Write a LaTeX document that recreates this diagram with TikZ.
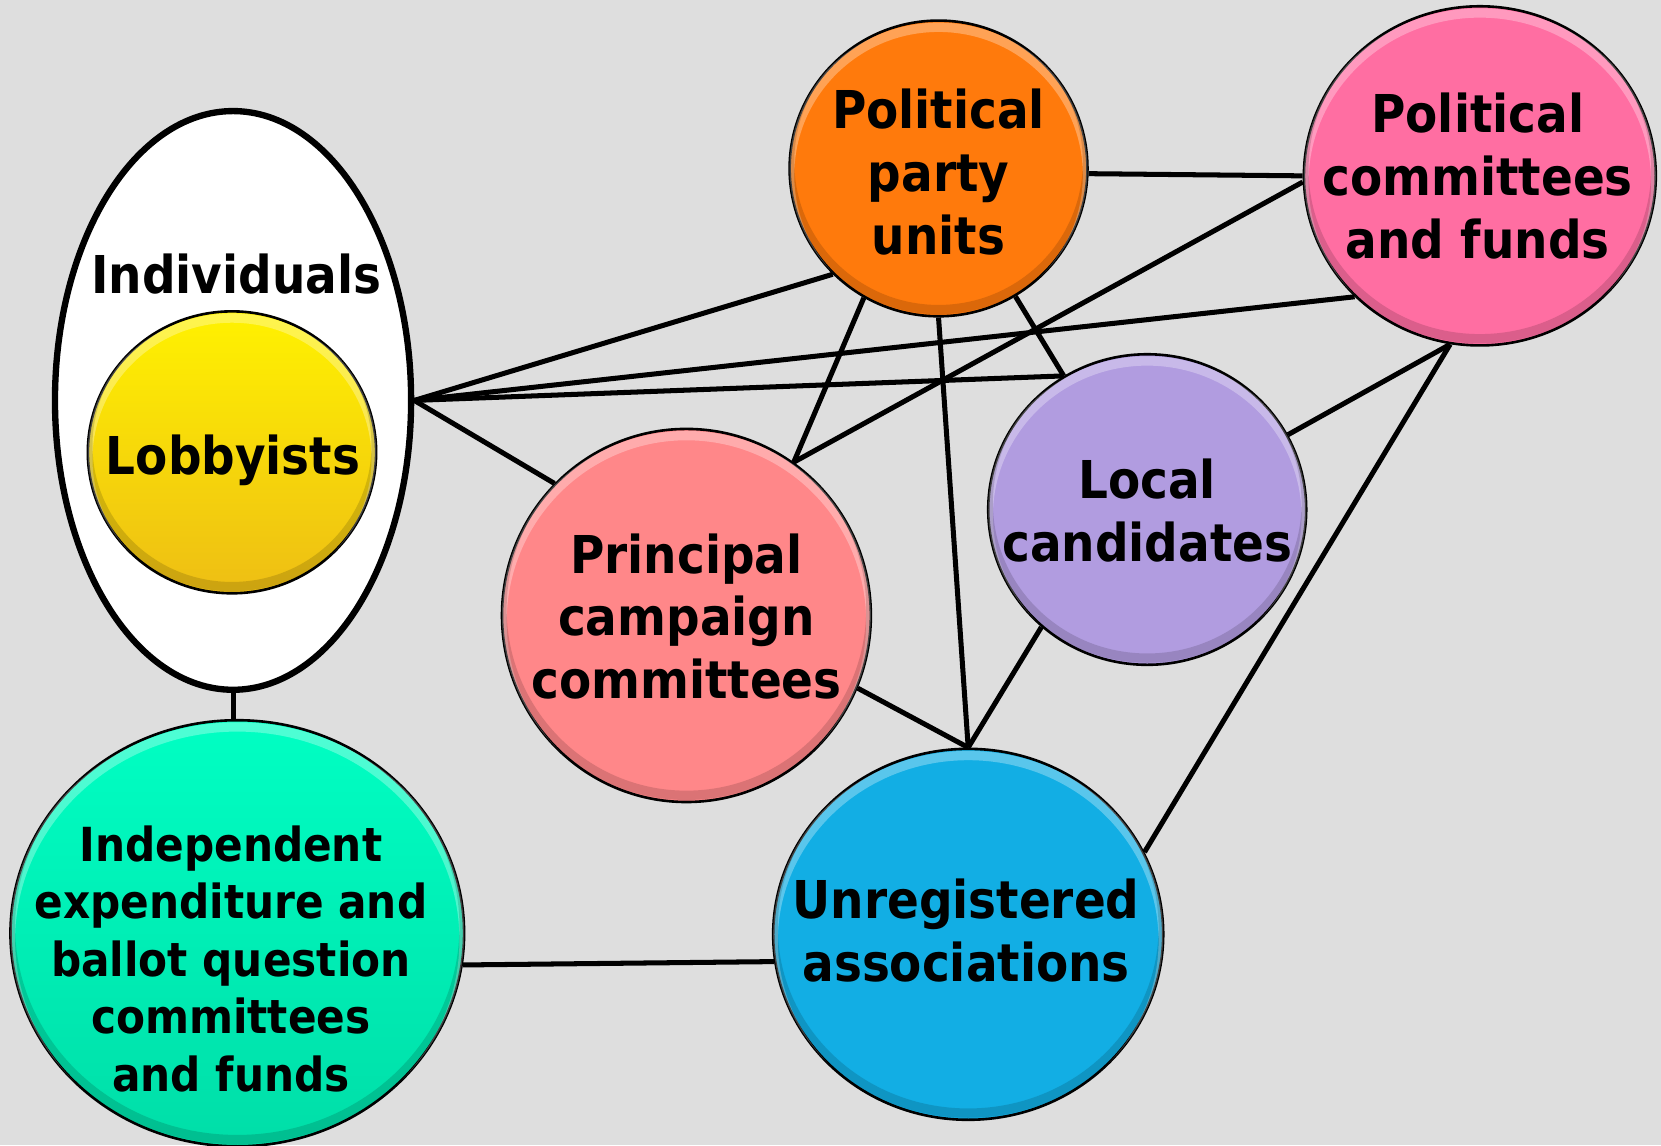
\documentclass[tikz,border=0pt]{standalone}
\usepackage{fontspec}
\setmainfont{DejaVu Sans Condensed}
\usetikzlibrary{shapes.geometric}
\definecolor{bgc}{RGB}{222,222,222}
\definecolor{lobT}{RGB}{255,242,0}
\definecolor{lobB}{RGB}{238,190,20}
\definecolor{ppuC}{RGB}{255,122,12}
\definecolor{pcfC}{RGB}{255,110,162}
\definecolor{locC}{RGB}{177,156,224}
\definecolor{pccC}{RGB}{255,135,137}
\definecolor{unaC}{RGB}{18,174,228}
\definecolor{iecT}{RGB}{0,255,195}
\definecolor{iecB}{RGB}{0,222,168}
\newcommand{\bevelit}[3]{%
  \begin{scope}
    \clip (#1.center) ellipse [x radius=#2, y radius=#3];
    \draw[white, opacity=0.3, line width=2.5pt] ([yshift=-1.8pt]#1.center) ellipse [x radius=#2, y radius=#3];
    \draw[black, opacity=0.14, line width=2.5pt] ([yshift=1.8pt]#1.center) ellipse [x radius=#2, y radius=#3];
  \end{scope}}
\begin{document}
\begin{tikzpicture}[x=0.01cm,y=-0.01cm,
  bub/.style={ellipse, draw=black, line width=0.7pt, inner sep=0pt},
  conn/.style={line width=1.35pt, black},
  lbl/.style={font=\bfseries\fontsize{14}{16.9}\selectfont, align=center, inner sep=0pt},
  lbls/.style={font=\bfseries\fontsize{12.6}{15.45}\selectfont, align=center, inner sep=0pt}]
\fill[bgc] (0,0) rectangle (1568,1081);
\useasboundingbox (0,0) rectangle (1568,1081);
% shapes
\node[bub, line width=1.7pt, fill=white, minimum width=3.36cm, minimum height=5.46cm] (ind) at (220,378) {};
\node[bub, top color=lobT, bottom color=lobB, minimum width=2.72cm, minimum height=2.66cm] (lob) at (219,427) {};
\node[bub, fill=ppuC, minimum width=2.81cm, minimum height=2.79cm] (ppu) at (886,159) {};
\node[bub, fill=pcfC, minimum width=3.32cm, minimum height=3.20cm] (pcf) at (1397,166) {};
\node[bub, fill=locC, minimum width=3.00cm, minimum height=2.93cm] (loc) at (1083,481) {};
\node[bub, fill=pccC, minimum width=3.48cm, minimum height=3.52cm] (pcc) at (648,581) {};
\node[bub, fill=unaC, minimum width=3.68cm, minimum height=3.50cm] (una) at (914,882) {};
\node[bub, top color=iecT, bottom color=iecB, minimum width=4.28cm, minimum height=4.02cm] (iec) at (224,881) {};
% bevel highlights
\bevelit{lob}{1.36cm}{1.33cm}
\bevelit{ppu}{1.405cm}{1.395cm}
\bevelit{pcf}{1.66cm}{1.60cm}
\bevelit{loc}{1.50cm}{1.465cm}
\bevelit{pcc}{1.74cm}{1.76cm}
\bevelit{una}{1.84cm}{1.75cm}
\bevelit{iec}{2.14cm}{2.01cm}
% labels
\node[lbl, anchor=base] (indT) at (223,277) {Individuals};
\node[lbl, anchor=base] (lobT) at (220,448) {Lobbyists};
\node[lbl] (ppuT) at (886,162) {Political\\party\\units};
\node[lbl] (pcfT) at (1395,166) {Political\\committees\\and funds};
\node[lbl] (locT) at (1083,482) {Local\\candidates};
\node[lbl] (pccT) at (648,582) {Principal\\campaign\\committees};
\node[lbl] (unaT) at (912,878) {Unregistered\\associations};
\node[lbls] (iecT) at (218,905) {Independent\\expenditure and\\ballot question\\committees\\and funds};
% connectors
\coordinate (hub) at (ind.east);
\draw[conn] (hub) -- (ppu.225);
\draw[conn] (hub) -- (pcf.224);
\draw[conn] (hub) -- (loc.122);
\draw[conn] (hub) -- (pcc.135);
\draw[conn] (ppu.-2) -- (pcf.west);
\draw[conn] (pcf.182) -- (pcc.55);
\draw[conn] (ppu.240) -- (pcc.55);
\draw[conn] (ppu.south) -- (una.north);
\draw[conn] (ppu.-59) -- (loc.122);
\draw[conn] (loc.28) -- (pcf.-100);
\draw[conn] (pcf.-100) -- (una.25);
\draw[conn] (loc.228) -- (una.north);
\draw[conn] (pcc.-23) -- (una.north);
\draw[conn] (ind.south) -- (ind.south |- iec.north);
\draw[conn] (iec.-8) -- (una.188);
\end{tikzpicture}
\end{document}
